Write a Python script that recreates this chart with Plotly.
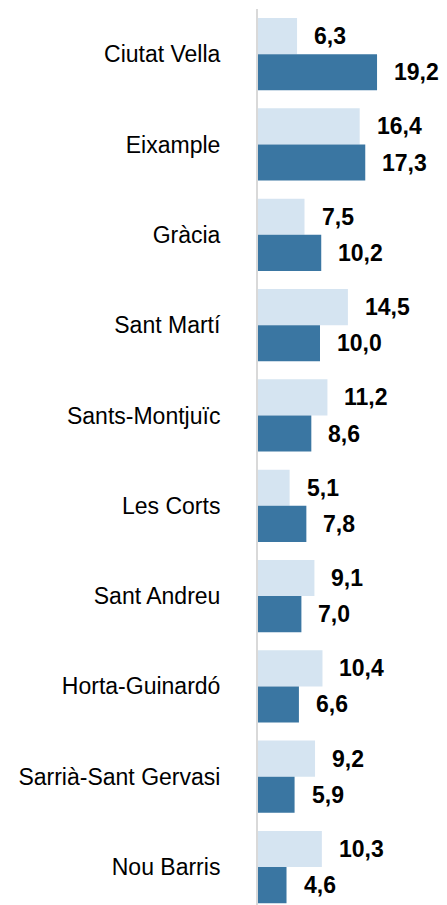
import plotly.graph_objects as go

categories = ["Ciutat Vella", "Eixample", "Gràcia", "Sant Martí", "Sants-Montjuïc",
              "Les Corts", "Sant Andreu", "Horta-Guinardó", "Sarrià-Sant Gervasi", "Nou Barris"]
series_light = [6.3, 16.4, 7.5, 14.5, 11.2, 5.1, 9.1, 10.4, 9.2, 10.3]
series_dark = [19.2, 17.3, 10.2, 10.0, 8.6, 7.8, 7.0, 6.6, 5.9, 4.6]

LIGHT = "#D5E4F1"
DARK = "#3A76A2"
FONT = "Liberation Sans, Arial, sans-serif"

def fmt(v):
    return f"{v:.1f}".replace(".", ",")

fig = go.Figure()
fig.add_trace(go.Bar(y=categories, x=series_light, orientation="h",
                     marker=dict(color=LIGHT, line=dict(width=0)), name="A",
                     offsetgroup="a"))
fig.add_trace(go.Bar(y=categories, x=series_dark, orientation="h",
                     marker=dict(color=DARK, line=dict(width=0)), name="B",
                     offsetgroup="b"))

# value labels
for i, c in enumerate(categories):
    for v, dy in ((series_light[i], -0.2), (series_dark[i], 0.2)):
        fig.add_annotation(x=v, y=i + dy, yref="y", xref="x", text=f"<b>{fmt(v)}</b>",
                           showarrow=False, xanchor="left", yanchor="middle", xshift=15,
                           font=dict(family=FONT, size=23, color="#000000"))

fig.update_layout(
    width=439, height=897,
    margin=dict(l=250, r=0, t=1, b=0),
    plot_bgcolor="white", paper_bgcolor="white",
    barmode="group", bargap=0.2, bargroupgap=0,
    showlegend=False,
    xaxis=dict(range=[0, 189 / 6.2], showgrid=False, zeroline=False, showticklabels=False,
               showline=False),
    yaxis=dict(type="category", range=[9.42, -0.5], showgrid=False, zeroline=False,
               showline=True, linecolor="#D9D9D9", linewidth=2,
               ticks="", ticklabelstandoff=31,
               tickfont=dict(family=FONT, size=23, color="#000000")),
)

fig.write_html("out.html")
